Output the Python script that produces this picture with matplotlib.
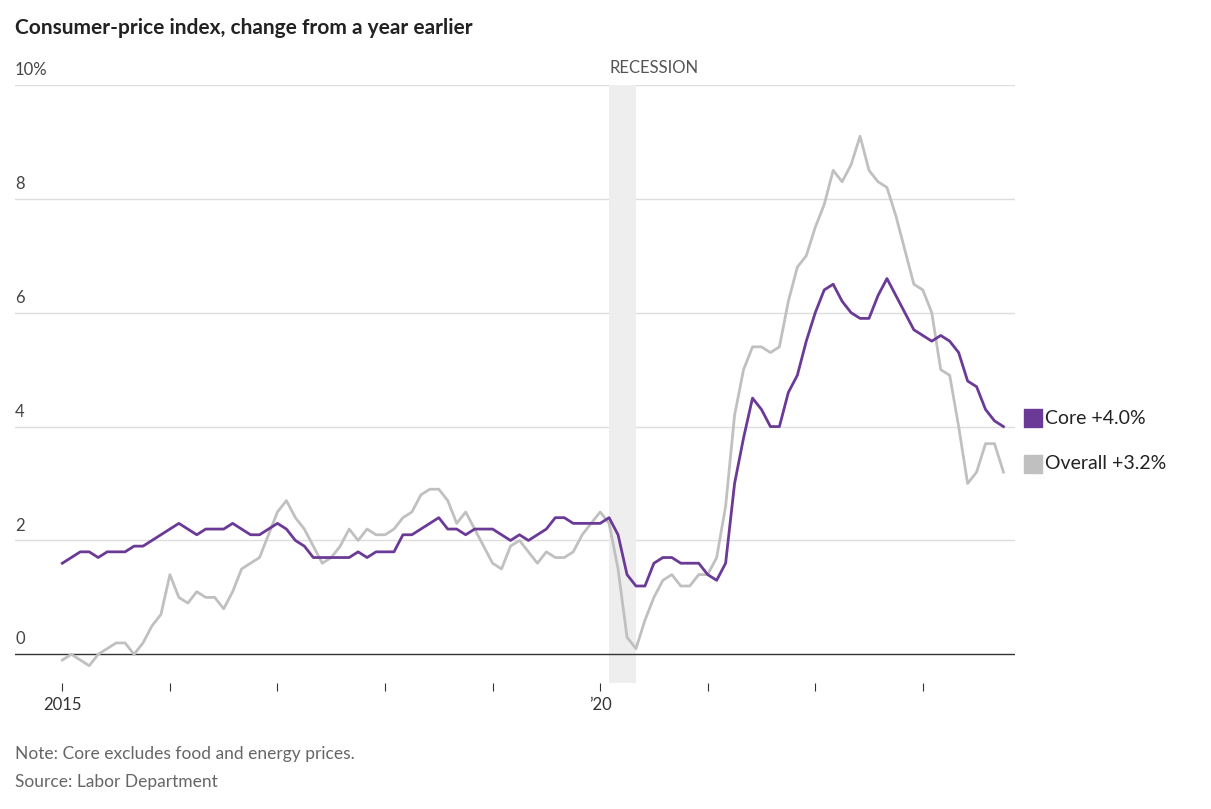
import numpy as np
import matplotlib.pyplot as plt
from matplotlib.patches import Rectangle

plt.rcParams['font.family'] = ['Lato', 'DejaVu Sans']

# Monthly year-over-year change, Jan 2015 - Oct 2023
overall = [
    -0.1, 0.0, -0.1, -0.2, 0.0, 0.1, 0.2, 0.2, 0.0, 0.2, 0.5, 0.7,
    1.4, 1.0, 0.9, 1.1, 1.0, 1.0, 0.8, 1.1, 1.5, 1.6, 1.7, 2.1,
    2.5, 2.7, 2.4, 2.2, 1.9, 1.6, 1.7, 1.9, 2.2, 2.0, 2.2, 2.1,
    2.1, 2.2, 2.4, 2.5, 2.8, 2.9, 2.9, 2.7, 2.3, 2.5, 2.2, 1.9,
    1.6, 1.5, 1.9, 2.0, 1.8, 1.6, 1.8, 1.7, 1.7, 1.8, 2.1, 2.3,
    2.5, 2.3, 1.5, 0.3, 0.1, 0.6, 1.0, 1.3, 1.4, 1.2, 1.2, 1.4,
    1.4, 1.7, 2.6, 4.2, 5.0, 5.4, 5.4, 5.3, 5.4, 6.2, 6.8, 7.0,
    7.5, 7.9, 8.5, 8.3, 8.6, 9.1, 8.5, 8.3, 8.2, 7.7, 7.1, 6.5,
    6.4, 6.0, 5.0, 4.9, 4.0, 3.0, 3.2, 3.7, 3.7, 3.2,
]
core = [
    1.6, 1.7, 1.8, 1.8, 1.7, 1.8, 1.8, 1.8, 1.9, 1.9, 2.0, 2.1,
    2.2, 2.3, 2.2, 2.1, 2.2, 2.2, 2.2, 2.3, 2.2, 2.1, 2.1, 2.2,
    2.3, 2.2, 2.0, 1.9, 1.7, 1.7, 1.7, 1.7, 1.7, 1.8, 1.7, 1.8,
    1.8, 1.8, 2.1, 2.1, 2.2, 2.3, 2.4, 2.2, 2.2, 2.1, 2.2, 2.2,
    2.2, 2.1, 2.0, 2.1, 2.0, 2.1, 2.2, 2.4, 2.4, 2.3, 2.3, 2.3,
    2.3, 2.4, 2.1, 1.4, 1.2, 1.2, 1.6, 1.7, 1.7, 1.6, 1.6, 1.6,
    1.4, 1.3, 1.6, 3.0, 3.8, 4.5, 4.3, 4.0, 4.0, 4.6, 4.9, 5.5,
    6.0, 6.4, 6.5, 6.2, 6.0, 5.9, 5.9, 6.3, 6.6, 6.3, 6.0, 5.7,
    5.6, 5.5, 5.6, 5.5, 5.3, 4.8, 4.7, 4.3, 4.1, 4.0,
]
months = 2015 + np.arange(len(core)) / 12
yticks = [0, 2, 4, 6, 8, 10]
ytick_labels = ['0', '2', '4', '6', '8', '10%']
recession = (2020 + 1 / 12, 2020 + 4 / 12)

purple = '#6b3a96'
grey = '#c0c0c0'

fig = plt.figure(figsize=(12.11, 8.09), dpi=100)
ax = fig.add_axes([0.0124, 0.156, 0.826, 0.739])
ax.set_xlim(2014.56, 2023.86)
ax.set_ylim(-0.5, 10)

for y in yticks[1:]:
    ax.axhline(y, color='#dddddd', lw=1, zorder=0)
ax.axhline(0, color='#333333', lw=1, zorder=3)
for y, lab in zip(yticks, ytick_labels):
    ax.text(2014.56, y + 0.12, lab, fontsize=12, color='#444444', va='bottom', ha='left')

ax.add_patch(Rectangle((recession[0], -0.5), recession[1] - recession[0], 10.5,
                       color='#eeeeee', lw=0, zorder=1))
ax.text(recession[0], 10.15, 'RECESSION', fontsize=12, color='#555555', va='bottom', ha='left')

ax.plot(months, overall, color=grey, lw=2, zorder=4)
ax.plot(months, core, color=purple, lw=2, zorder=5)

for sp in ax.spines.values():
    sp.set_visible(False)
ax.set_yticks([])
ax.set_xticks(np.arange(2015, 2024))
ax.set_xticklabels(['2015', '', '', '', '', '\u201920', '', '', ''], fontsize=12, color='#333333')
ax.tick_params(axis='x', length=6, color='#333333', pad=4)

# Legend at right
for y, col, lab in [(4.15, purple, 'Core +4.0%'), (3.35, grey, 'Overall +3.2%')]:
    ax.scatter([2024.02], [y], marker='s', s=150, color=col, clip_on=False)
    ax.text(2024.14, y, lab, fontsize=14, color='#222222', va='center', ha='left')

fig.text(0.0124, 0.965, 'Consumer-price index, change from a year earlier',
         fontsize=15, fontweight='bold', color='#222222', va='center')
fig.text(0.0124, 0.068, 'Note: Core excludes food and energy prices.', fontsize=12.5, color='#666666', va='center')
fig.text(0.0124, 0.033, 'Source: Labor Department', fontsize=12.5, color='#666666', va='center')

fig.savefig('out.png', dpi=100)
